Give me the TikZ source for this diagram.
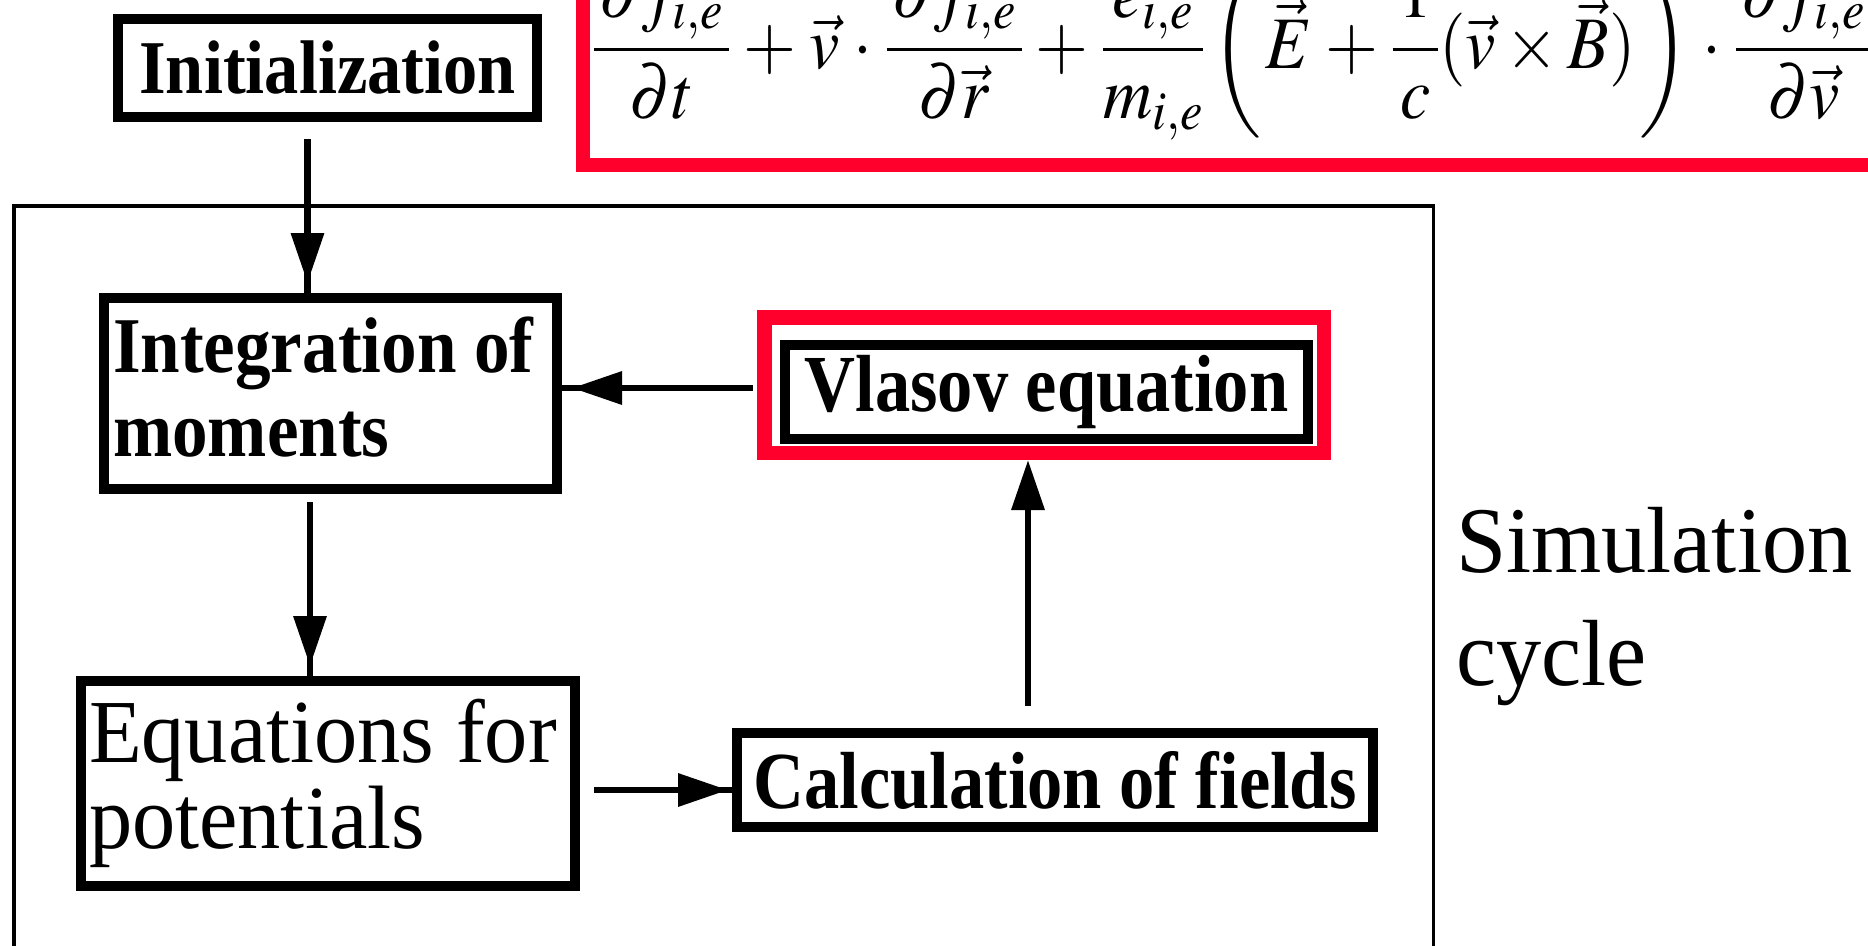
\documentclass[tikz,border=0pt]{standalone}
\usepackage{mathptmx}
\usepackage[no-math]{fontspec}
\setmainfont{Liberation Serif}
\newfontfamily\bnA{Liberation Serif Bold}[FakeStretch=0.9]
\newfontfamily\bnB{Liberation Serif Bold}[FakeStretch=0.87]
\newfontfamily\rnA{Liberation Serif}[FakeStretch=0.96]
\usetikzlibrary{arrows.meta}
\definecolor{eqred}{RGB}{255,0,45}
\tikzset{
  boxnode/.style={draw=black, line width=10pt, inner sep=0pt, rectangle},
  arr/.style={line width=6.5pt, -{Triangle[length=50pt,width=32pt]Rectangle[length=#1,width=6.5pt]}},
  arrtouch/.style={line width=6.5pt, -{Triangle[length=50pt,width=32pt]}},
}
\newcommand{\pd}{\mkern1.5mu}
\newcommand{\op}{\mkern1mu}
\begin{document}
\begin{tikzpicture}[x=1pt,y=-1pt]
\useasboundingbox (0,0) rectangle (1868,945);
\clip (0,0) rectangle (1868,945);
\fill[white] (0,0) rectangle (1868,945);
% equation box
\node[draw=eqred, line width=14pt, minimum width=1500pt, minimum height=300pt, anchor=south west, inner sep=0pt] (eqbox) at (576,172) {};
\node[anchor=base west, inner sep=0pt] (eq) at (593,68) {\fontsize{74}{80}\selectfont\scalebox{0.92}[1]{$\displaystyle
 \frac{\pd\partial f_{i,e}\pd}{\partial t}\op+\op\vec v\op\cdot\op\frac{\pd\partial f_{i,e}\pd}{\partial\vec r}\op+\op\frac{\pd e_{i,e}\pd}{m_{i,e}}\left(\vphantom{\frac{e_{i,e}}{m_{i,e}}}\op\vec E\op+\op\frac{\pd1\pd}{c}(\vec v\times\vec B)\op\right)\op\cdot\op\frac{\pd\partial f_{i,e}\pd}{\partial\vec v}$}};
% simulation cycle frame
\node[draw=black, line width=3.5pt, minimum width=1419.5pt, minimum height=900pt, anchor=north west, inner sep=0pt] (cycle) at (12,204) {};
\node[anchor=base west, inner sep=0pt, align=left, font=\rnA\fontsize{94}{113}\selectfont] (cyclelabel) at (1456,685) {Simulation\\cycle};
% boxes
\node[boxnode, minimum width=419pt, minimum height=98pt, font=\bnA\fontsize{76}{84}\selectfont] (init) at (327.5,68) {Initialization};
\node[boxnode, minimum width=453pt, minimum height=191pt, text width=435pt, inner xsep=9pt, align=flush left, text height=55pt, text depth=98pt, font=\bnA\fontsize{79}{84}\selectfont] (integ) at (330.5,393.5) {Integration of\\moments};
\node[draw=eqred, line width=14.5pt, minimum width=559.5pt, minimum height=135.5pt, inner sep=0pt] (vlasovframe) at (1044,385) {};
\node[boxnode, minimum width=523pt, minimum height=94pt, font=\bnB\fontsize{81}{84}\selectfont] (vlasov) at (1046.5,392) {Vlasov equation};
\node[boxnode, minimum width=494pt, minimum height=205pt, text width=478pt, inner xsep=8pt, align=flush left, text height=62pt, text depth=105pt, font=\rnA\fontsize{90}{86}\selectfont] (potent) at (328,783.5) {Equations for\\potentials};
\node[boxnode, minimum width=636pt, minimum height=94pt, font=\bnB\fontsize{81}{84}\selectfont] (fields) at (1055,780) {Calculation of fields};
% arrows
\draw[arr=10pt] ([xshift=-20pt,yshift=-17pt]init.south) -- ([xshift=-23pt]integ.north);
\draw[arr=10pt] ([xshift=-20.5pt,yshift=-8pt]integ.south) -- ([xshift=-18pt]potent.north);
\draw[arr=4pt] ([xshift=14pt,yshift=-6.5pt]potent.east) -- ([yshift=-10pt]fields.west);
\draw[arrtouch] ([xshift=-27pt,yshift=22pt]fields.north) -- ([xshift=-16pt]vlasovframe.south);
\draw[arr=10pt] ([xshift=-4pt,yshift=-3pt]vlasovframe.west) -- ([yshift=5.5pt]integ.east);
\end{tikzpicture}
\end{document}
